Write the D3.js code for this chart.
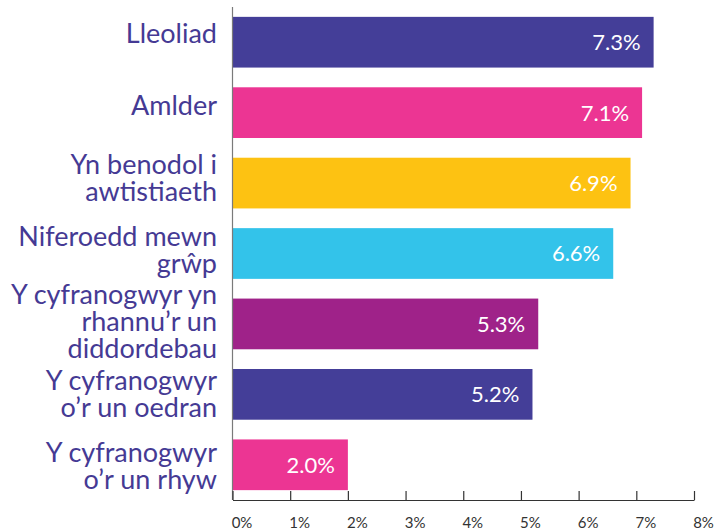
<!DOCTYPE html>
<html>
<head>
<meta charset="utf-8">
<script src="https://cdn.jsdelivr.net/npm/d3@7"></script>
<style>
  body { margin: 0; background: #fff; }
  svg { display: block; font-family: Lato, "Open Sans", sans-serif; }
</style>
</head>
<body>
<div id="chart"></div>
<script>
// data
const categories = [
  ['Lleoliad'],
  ['Amlder'],
  ['Yn benodol i', 'awtistiaeth'],
  ['Niferoedd mewn', 'grŵp'],
  ['Y cyfranogwyr yn', 'rhannu’r un', 'diddordebau'],
  ['Y cyfranogwyr', 'o’r un oedran'],
  ['Y cyfranogwyr', 'o’r un rhyw']
]
const values = [7.3, 7.1, 6.9, 6.6, 5.3, 5.2, 2.0]
const colours = ['#443e98', '#ec3593', '#fdc212', '#33c3ea', '#9f2289', '#443e98', '#ec3593']
const ticks = [0, 1, 2, 3, 4, 5, 6, 7, 8]

const w = 714, h = 531
const mLeft = 232.5, mRight = 694, mTop = 7, mBottom = 500

const svg = d3.select('#chart')
  .append('svg')
  .attr('width', w)
  .attr('height', h)

const x = d3.scaleLinear().domain([0, 8]).range([mLeft, mRight])
const y = d3.scaleBand()
  .domain(d3.range(categories.length))
  .range([mTop, mBottom])
  .paddingInner(0.28)
  .paddingOuter(0.14)

// the labels sit on their own slightly tighter grid
const yLab = d3.scalePoint()
  .domain(d3.range(categories.length))
  .range([33, 466])

// bars
svg.selectAll('rect.bar')
  .data(values)
  .enter()
  .append('rect')
  .attr('class', 'bar')
  .attr('x', x(0))
  .attr('y', (d, i) => y(i))
  .attr('width', d => x(d) - x(0))
  .attr('height', y.bandwidth())
  .attr('fill', (d, i) => colours[i])

// value labels inside the bars
svg.selectAll('text.val')
  .data(values)
  .enter()
  .append('text')
  .attr('class', 'val')
  .attr('x', d => x(d) - 13)
  .attr('y', (d, i) => y(i) + y.bandwidth() / 2)
  .attr('dy', '0.36em')
  .attr('text-anchor', 'end')
  .attr('fill', '#fff')
  .style('font-size', '22px')
  .text(d => d.toFixed(1) + '%')

// category labels, one tspan per line
const fs = 27, lh = 27
const labels = svg.selectAll('text.cat')
  .data(categories)
  .enter()
  .append('text')
  .attr('class', 'cat')
  .attr('text-anchor', 'end')
  .attr('fill', '#453a94')
  .style('font-size', fs + 'px')
  .attr('y', (d, i) => yLab(i) - (d.length - 1) * lh / 2 + fs * 0.36)

labels.selectAll('tspan')
  .data(d => d)
  .enter()
  .append('tspan')
  .attr('x', 217)
  .attr('dy', (d, i) => i === 0 ? 0 : lh)
  .text(d => d)

// vertical axis line
svg.append('line')
  .attr('x1', x(0)).attr('x2', x(0))
  .attr('y1', mTop).attr('y2', mBottom)
  .attr('stroke', '#7a7a7a')
  .attr('stroke-width', 1.2)

// bottom axis, ticks pointing up
const xAxis = d3.axisBottom(x)
  .tickValues(ticks)
  .tickFormat(d => d + '%')
  .tickSizeInner(-9)
  .tickSizeOuter(0)
  .tickPadding(17)

const gx = svg.append('g')
  .attr('transform', `translate(0,${mBottom})`)
  .call(xAxis)

gx.select('.domain').attr('stroke', '#333').attr('stroke-width', 1.2)
gx.selectAll('.tick line').attr('stroke', '#333').attr('stroke-width', 1.2)
gx.selectAll('.tick text')
  .attr('dx', 9)
  .attr('fill', '#333')
  .style('font-size', '15px')
  .style('font-family', 'Lato, sans-serif')
</script>
</body>
</html>
